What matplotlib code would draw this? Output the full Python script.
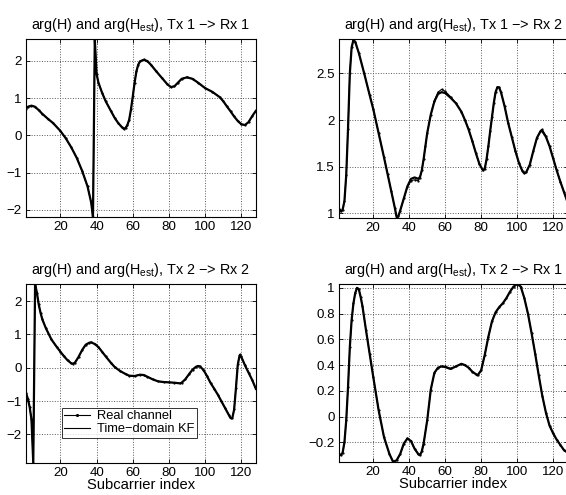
import numpy as np
import matplotlib
matplotlib.use('Agg')
import matplotlib.pyplot as plt

plt.rcParams['font.family'] = ['Liberation Sans', 'DejaVu Sans']
plt.rcParams['mathtext.fontset'] = 'custom'
plt.rcParams['mathtext.rm'] = 'Liberation Sans'
plt.rcParams['axes.unicode_minus'] = True

# Tx 1 -> Rx 1
x_11 = [1, 2, 4, 6, 8, 10, 13, 16, 20, 23, 26, 29, 32, 35, 37, 38, 39, 40, 41, 43,
        45, 48, 50, 52, 54, 55, 56, 57, 58, 59, 60, 61, 62, 63, 64, 66, 68, 70, 73,
        76, 79, 81, 83, 85, 87, 90, 93, 96, 100, 104, 108, 110, 112, 114, 116, 118,
        120, 122, 124, 126, 128]
real_11 = [0.72, 0.77, 0.80, 0.77, 0.68, 0.58, 0.45, 0.33, 0.12, -0.08, -0.32, -0.60,
           -0.95, -1.37, -1.80, -2.19, 2.59, 1.65, 1.42, 1.15, 0.92, 0.65, 0.47, 0.33,
           0.22, 0.18, 0.20, 0.28, 0.42, 0.70, 1.05, 1.42, 1.72, 1.90, 1.99, 2.04,
           2.00, 1.90, 1.72, 1.55, 1.38, 1.30, 1.32, 1.42, 1.52, 1.57, 1.52, 1.42,
           1.27, 1.17, 1.03, 0.92, 0.78, 0.65, 0.51, 0.39, 0.30, 0.28, 0.36, 0.52, 0.66]
est_11 = [0.72, 0.77, 0.80, 0.77, 0.68, 0.58, 0.45, 0.33, 0.12, -0.08, -0.32, -0.60,
          -0.95, -1.37, -1.80, -2.19, 2.59, 1.65, 1.42, 1.15, 0.92, 0.65, 0.47, 0.33,
          0.22, 0.18, 0.20, 0.28, 0.42, 0.70, 1.05, 1.42, 1.72, 1.90, 1.99, 2.03,
          2.00, 1.90, 1.72, 1.55, 1.38, 1.30, 1.32, 1.42, 1.52, 1.56, 1.52, 1.42,
          1.27, 1.17, 1.03, 0.92, 0.78, 0.65, 0.51, 0.39, 0.30, 0.28, 0.36, 0.52, 0.66]

# Tx 1 -> Rx 2
x_12 = [1, 2, 3, 4, 5, 6, 7, 8, 9, 10, 12, 15, 18, 20, 23, 26, 28, 30, 32, 33, 34,
        35, 37, 39, 41, 43, 45, 46, 47, 48, 49, 50, 52, 54, 56, 58, 60, 63, 66, 69,
        71, 73, 75, 77, 79, 81, 82, 83, 84, 85, 86, 87, 88, 89, 90, 91, 93, 95, 97,
        99, 101, 103, 104, 105, 107, 109, 111, 113, 114, 116, 118, 120, 122, 124,
        126, 128]
real_12 = [1.05, 1.02, 1.04, 1.13, 1.41, 1.91, 2.50, 2.78, 2.86, 2.84, 2.72, 2.50,
           2.27, 2.12, 1.86, 1.60, 1.42, 1.24, 1.06, 0.96, 0.97, 1.03, 1.16, 1.28,
           1.35, 1.36, 1.35, 1.38, 1.46, 1.58, 1.72, 1.86, 2.06, 2.21, 2.30, 2.33,
           2.31, 2.25, 2.18, 2.09, 2.00, 1.90, 1.78, 1.65, 1.53, 1.46, 1.48, 1.58,
           1.72, 1.88, 2.03, 2.18, 2.30, 2.36, 2.35, 2.30, 2.15, 1.97, 1.82, 1.67,
           1.54, 1.45, 1.43, 1.44, 1.52, 1.67, 1.81, 1.89, 1.90, 1.83, 1.72, 1.59,
           1.46, 1.34, 1.23, 1.12]
est_12 = [1.05, 1.02, 1.04, 1.13, 1.41, 1.91, 2.50, 2.78, 2.86, 2.84, 2.72, 2.50,
          2.27, 2.12, 1.86, 1.60, 1.42, 1.24, 1.06, 0.96, 0.97, 1.03, 1.16, 1.29,
          1.37, 1.385, 1.37, 1.39, 1.46, 1.58, 1.72, 1.86, 2.06, 2.20, 2.28, 2.30,
          2.29, 2.24, 2.18, 2.09, 2.00, 1.90, 1.78, 1.65, 1.53, 1.46, 1.48, 1.58,
          1.72, 1.88, 2.03, 2.18, 2.30, 2.35, 2.35, 2.30, 2.15, 1.97, 1.82, 1.67,
          1.54, 1.45, 1.43, 1.44, 1.52, 1.67, 1.81, 1.88, 1.88, 1.82, 1.72, 1.59,
          1.46, 1.34, 1.23, 1.12]

# Tx 2 -> Rx 2
x_22 = [1, 2, 3, 4, 5, 6, 7, 8, 9, 10, 12, 15, 18, 20, 22, 24, 26, 27, 28, 30, 32,
        34, 36, 37, 39, 41, 43, 45, 48, 50, 53, 56, 58, 61, 64, 66, 68, 71, 74, 77,
        80, 83, 86, 87, 89, 91, 93, 95, 96, 97, 99, 101, 103, 105, 107, 109, 111,
        113, 114, 115, 116, 117, 118, 119, 120, 122, 124, 126, 128]
real_22 = [-0.76, -0.93, -1.18, -1.55, -2.86, 2.51, 2.25, 1.90, 1.65, 1.45, 1.18,
           0.85, 0.62, 0.48, 0.34, 0.22, 0.13, 0.12, 0.15, 0.32, 0.53, 0.69, 0.75,
           0.76, 0.71, 0.62, 0.48, 0.34, 0.14, 0.02, -0.10, -0.19, -0.24, -0.25,
           -0.21, -0.22, -0.27, -0.35, -0.41, -0.43, -0.44, -0.45, -0.47, -0.45,
           -0.35, -0.20, -0.06, 0.03, 0.05, 0.04, -0.06, -0.25, -0.46, -0.63, -0.81,
           -1.01, -1.21, -1.41, -1.50, -1.50, -1.25, -0.60, 0.10, 0.40, 0.34, 0.08,
           -0.15, -0.37, -0.63]
est_22 = [-0.76, -0.93, -1.18, -1.55, -2.86, 2.51, 2.25, 1.90, 1.65, 1.45, 1.18,
          0.85, 0.62, 0.48, 0.34, 0.22, 0.13, 0.12, 0.15, 0.32, 0.53, 0.69, 0.75,
          0.76, 0.71, 0.62, 0.48, 0.34, 0.14, 0.02, -0.10, -0.19, -0.24, -0.25,
          -0.21, -0.22, -0.27, -0.35, -0.41, -0.43, -0.44, -0.45, -0.47, -0.45,
          -0.35, -0.20, -0.06, 0.03, 0.05, 0.04, -0.06, -0.25, -0.46, -0.63, -0.81,
          -1.01, -1.21, -1.41, -1.51, -1.51, -1.26, -0.62, 0.08, 0.36, 0.32, 0.07,
          -0.15, -0.37, -0.63]

# Tx 2 -> Rx 1
x_21 = [1, 2, 3, 4, 5, 6, 7, 8, 9, 10, 11, 12, 13, 14, 16, 18, 20, 23, 26, 29, 31,
        33, 35, 37, 39, 41, 43, 45, 46, 47, 48, 50, 52, 54, 56, 58, 60, 63, 66, 69,
        71, 73, 75, 77, 78, 80, 82, 84, 86, 88, 90, 92, 94, 96, 98, 100, 102, 104,
        106, 108, 110, 112, 114, 116, 118, 120, 122, 124, 126, 128]
real_21 = [-0.29, -0.30, -0.28, -0.20, -0.03, 0.23, 0.54, 0.75, 0.88, 0.96, 1.00,
           0.99, 0.93, 0.86, 0.67, 0.49, 0.31, 0.05, -0.16, -0.29, -0.35, -0.34,
           -0.29, -0.21, -0.17, -0.19, -0.25, -0.29, -0.30, -0.27, -0.21, -0.03,
           0.21, 0.34, 0.38, 0.39, 0.39, 0.375, 0.39, 0.41, 0.40, 0.38, 0.35, 0.33,
           0.32, 0.36, 0.48, 0.62, 0.74, 0.81, 0.85, 0.88, 0.92, 0.97, 1.01, 1.03,
           1.01, 0.92, 0.80, 0.65, 0.49, 0.32, 0.16, 0.03, -0.07, -0.13, -0.18,
           -0.22, -0.26, -0.28]
est_21 = [-0.29, -0.30, -0.28, -0.20, -0.03, 0.23, 0.54, 0.75, 0.88, 0.96, 1.00,
          0.99, 0.93, 0.86, 0.67, 0.49, 0.31, 0.05, -0.16, -0.29, -0.35, -0.34,
          -0.29, -0.21, -0.17, -0.19, -0.25, -0.29, -0.30, -0.27, -0.21, -0.03,
          0.21, 0.34, 0.38, 0.39, 0.385, 0.37, 0.39, 0.41, 0.40, 0.38, 0.35, 0.33,
          0.32, 0.36, 0.48, 0.62, 0.74, 0.81, 0.85, 0.88, 0.92, 0.97, 1.01, 1.03,
          1.01, 0.92, 0.80, 0.65, 0.49, 0.32, 0.16, 0.03, -0.07, -0.13, -0.18,
          -0.22, -0.26, -0.28]

panels = [
    ('Tx 1 \u2212> Rx 1', x_11, real_11, est_11, (-2.19, 2.59), [-2, -1, 0, 1, 2]),
    ('Tx 1 \u2212> Rx 2', x_12, real_12, est_12, (0.95, 2.87), [1, 1.5, 2, 2.5]),
    ('Tx 2 \u2212> Rx 2', x_22, real_22, est_22, (-2.86, 2.51), [-2, -1, 0, 1, 2]),
    ('Tx 2 \u2212> Rx 1', x_21, real_21, est_21, (-0.353, 1.03), [-0.2, 0, 0.2, 0.4, 0.6, 0.8, 1]),
]

# axes boxes [left, bottom, width, height] in figure fractions
boxes = [
    [0.046, 0.5616, 0.406, 0.3596],
    [0.599, 0.5596, 0.4037, 0.3616],
    [0.046, 0.0646, 0.406, 0.3616],
    [0.599, 0.0666, 0.4037, 0.3596],
]

fig = plt.figure(figsize=(5.66, 4.95), dpi=100)

for i, (name, x, real, est, ylim, yticks) in enumerate(panels):
    ax = fig.add_axes(boxes[i])
    ax.plot(x, real, color='black', lw=0.8, marker='.', markersize=1.2,
            label='Real channel')
    ax.plot(x, est, color='black', lw=1.6, label='Time\u2212domain KF')
    ax.set_xlim(1, 128)
    ax.set_ylim(*ylim)
    ax.set_xticks([20, 40, 60, 80, 100, 120])
    ax.set_yticks(yticks)
    ax.set_yticklabels([('%g' % t).replace('-', '\u2212') for t in yticks])
    ax.grid(True, linestyle=':', color='0.35', linewidth=0.7)
    ax.tick_params(direction='in', top=True, right=True, labelsize=9.6,
                   length=3, width=0.6, pad=3)
    for s in ax.spines.values():
        s.set_linewidth(0.8)
    ax.set_title(r'arg(H) and arg(H$_{\mathrm{est}}$), ' + name, fontsize=10.4, pad=7)
    if i >= 2:
        ax.set_xlabel('Subcarrier index', fontsize=10.6, labelpad=-1)
    if i == 2:
        leg = ax.legend(loc='lower left', bbox_to_anchor=(0.156, 0.142, 0.59, 0.155),
                        mode='expand', fontsize=9.3, frameon=True, fancybox=False,
                        borderpad=0.2, labelspacing=0.05, handlelength=2.0,
                        handletextpad=0.5, borderaxespad=0)
        leg.get_frame().set_edgecolor('black')
        leg.get_frame().set_linewidth(0.7)
        for h in leg.get_lines():
            h.set_linewidth(0.8)
            h.set_markersize(2.5)

fig.savefig('out.png', dpi=100)
